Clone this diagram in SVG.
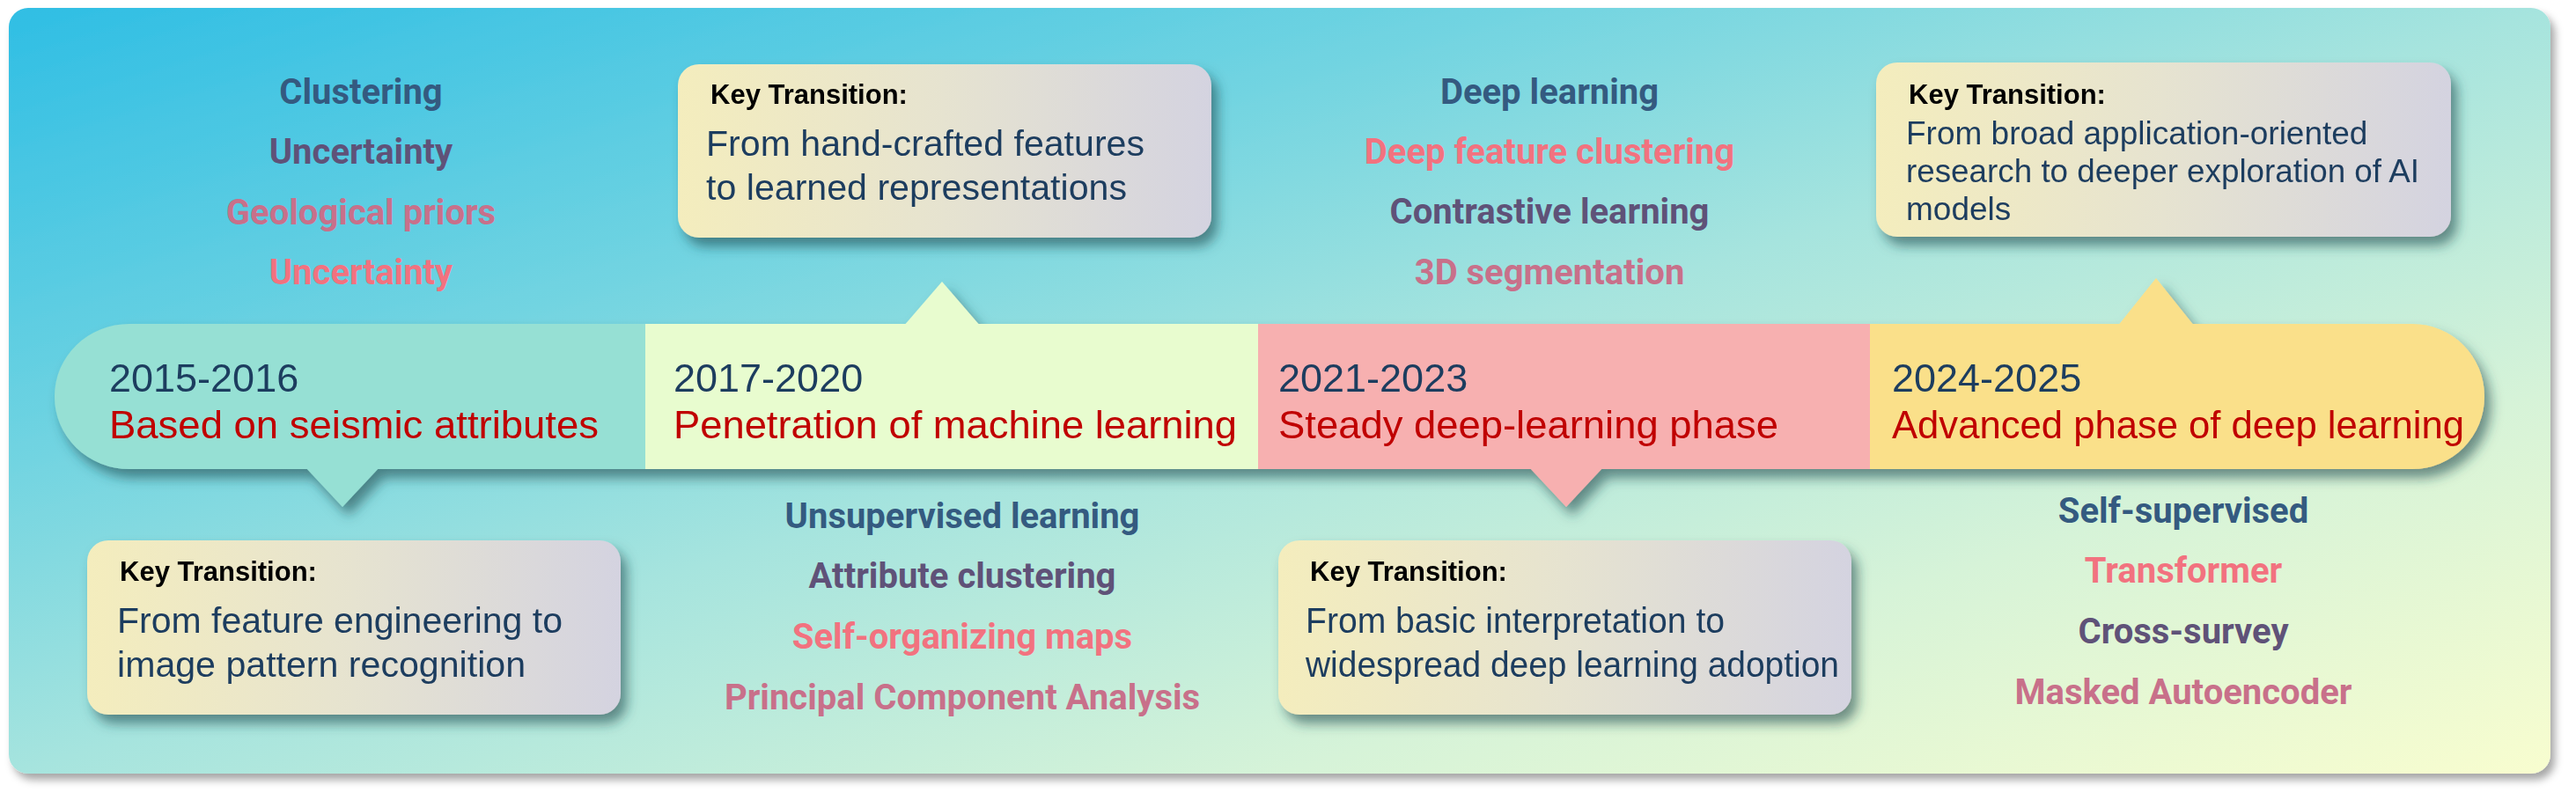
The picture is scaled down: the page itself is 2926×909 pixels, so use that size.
<svg xmlns="http://www.w3.org/2000/svg" width="2926" height="909" viewBox="0 0 2926 909">
<defs>
<linearGradient id="bgGrad" x1="0" y1="0" x2="1" y2="1">
<stop offset="0" stop-color="#2fbee4"/>
<stop offset="0.3" stop-color="#72d4e1"/>
<stop offset="0.5" stop-color="#a6e4de"/>
<stop offset="0.75" stop-color="#d6f3d8"/>
<stop offset="1" stop-color="#f8fdcf"/>
</linearGradient>
<linearGradient id="boxGrad" x1="0" y1="0" x2="1" y2="0">
<stop offset="0" stop-color="#f4edbd"/>
<stop offset="0.5" stop-color="#e6e3d0"/>
<stop offset="1" stop-color="#d4d3e0"/>
</linearGradient>
<filter id="bgShadow" x="-2%" y="-5%" width="104%" height="112%">
<feDropShadow dx="5" dy="7" stdDeviation="5" flood-color="#000" flood-opacity="0.35"/>
</filter>
<filter id="shadow" x="-10%" y="-20%" width="125%" height="150%">
<feDropShadow dx="7" dy="10" stdDeviation="7" flood-color="#1d4a4e" flood-opacity="0.6"/>
</filter>
<style>
.yr{font-family:"Liberation Sans",Arial,sans-serif;font-size:45px;fill:#1f3d5f}
.ph{font-family:"Liberation Sans",Arial,sans-serif;font-size:45px;fill:#c00000}
.kt{font-family:"Liberation Sans",Arial,sans-serif;font-size:31px;font-weight:bold;fill:#000}
.bd{font-family:"Liberation Sans",Arial,sans-serif;font-size:40px;fill:#1f3d5f}
.bds{font-family:"Liberation Sans",Arial,sans-serif;font-size:37px;fill:#1f3d5f}
.kw{font-family:Roboto,"Liberation Sans",sans-serif;font-size:40px;font-weight:bold;text-anchor:middle}
.c1{fill:#345a80}.c2{fill:#5f5278}.c3{fill:#c8708a}.c4{fill:#f2727f}
.box{fill:url(#boxGrad)}
</style>
</defs>
<rect x="0" y="0" width="2926" height="909" fill="#ffffff"/>
<rect id="panel" x="10" y="9" width="2887" height="870" rx="22" fill="url(#bgGrad)" filter="url(#bgShadow)"/>

<g id="timeline" filter="url(#shadow)">
<g id="connectors">
<path d="M346 530 L432 530 L389 576 Z" fill="#96e0d4"/>
<path d="M1026 371 L1114 371 L1070 320 Z" fill="#e8fccf"/>
<path d="M1736 530 L1822 530 L1779 576 Z" fill="#f7b0b0"/>
<path d="M2405 371 L2493 371 L2449 316 Z" fill="#fae08a"/>
</g>
<g id="period1">
<path d="M734 368 H147 A85 82 0 0 0 62 450 A85 82 0 0 0 147 533 H734 Z" fill="#96e0d4"/>
<text class="yr" x="124" y="445">2015-2016</text>
<text class="ph" x="124" y="498" textLength="556" lengthAdjust="spacingAndGlyphs">Based on seismic attributes</text>
</g>
<g id="period2">
<rect x="733" y="368" width="697" height="165" fill="#e8fccf"/>
<text class="yr" x="765" y="445">2017-2020</text>
<text class="ph" x="765" y="498" textLength="640" lengthAdjust="spacingAndGlyphs">Penetration of machine learning</text>
</g>
<g id="period3">
<rect x="1429" y="368" width="696" height="165" fill="#f7b0b0"/>
<text class="yr" x="1452" y="445">2021-2023</text>
<text class="ph" x="1452" y="498" textLength="568" lengthAdjust="spacingAndGlyphs">Steady deep-learning phase</text>
</g>
<g id="period4">
<path d="M2124 368 H2740 A82 82 0 0 1 2822 450 A82 82 0 0 1 2740 533 H2124 Z" fill="#fae08a"/>
<text class="yr" x="2149" y="445">2024-2025</text>
<text class="ph" x="2149" y="498" textLength="650" lengthAdjust="spacingAndGlyphs">Advanced phase of deep learning</text>
</g>
</g>

<g id="transition1" filter="url(#shadow)">
<rect class="box" x="99" y="614" width="606" height="198" rx="24"/>
<text class="kt" x="136" y="660">Key Transition:</text>
<text class="bd" x="133" y="719" textLength="506" lengthAdjust="spacingAndGlyphs">From feature engineering to</text>
<text class="bd" x="133" y="769" textLength="464" lengthAdjust="spacingAndGlyphs">image pattern recognition</text>
</g>
<g id="transition2" filter="url(#shadow)">
<rect class="box" x="770" y="73" width="606" height="197" rx="24"/>
<text class="kt" x="807" y="118">Key Transition:</text>
<text class="bd" x="802" y="177" textLength="498" lengthAdjust="spacingAndGlyphs">From hand-crafted features</text>
<text class="bd" x="802" y="227" textLength="478" lengthAdjust="spacingAndGlyphs">to learned representations</text>
</g>
<g id="transition3" filter="url(#shadow)">
<rect class="box" x="1452" y="614" width="651" height="198" rx="24"/>
<text class="kt" x="1488" y="660">Key Transition:</text>
<text class="bd" x="1483" y="719" textLength="476" lengthAdjust="spacingAndGlyphs">From basic interpretation to</text>
<text class="bd" x="1483" y="769" textLength="606" lengthAdjust="spacingAndGlyphs">widespread deep learning adoption</text>
</g>
<g id="transition4" filter="url(#shadow)">
<rect class="box" x="2131" y="71" width="653" height="198" rx="24"/>
<text class="kt" x="2168" y="118">Key Transition:</text>
<text class="bds" x="2165" y="164">From broad application-oriented</text>
<text class="bds" x="2165" y="207" textLength="583" lengthAdjust="spacingAndGlyphs">research to deeper exploration of AI</text>
<text class="bds" x="2165" y="250">models</text>
</g>

<g id="keywords1">
<text class="kw c1" x="410" y="118">Clustering</text>
<text class="kw c2" x="410" y="186">Uncertainty</text>
<text class="kw c3" x="410" y="255">Geological priors</text>
<text class="kw c4" x="410" y="323">Uncertainty</text>
</g>
<g id="keywords2">
<text class="kw c1" x="1093" y="600">Unsupervised learning</text>
<text class="kw c2" x="1093" y="668">Attribute clustering</text>
<text class="kw c4" x="1093" y="737">Self-organizing maps</text>
<text class="kw c3" x="1093" y="806">Principal Component Analysis</text>
</g>
<g id="keywords3">
<text class="kw c1" x="1760" y="118">Deep learning</text>
<text class="kw c4" x="1760" y="186">Deep feature clustering</text>
<text class="kw c2" x="1760" y="254">Contrastive learning</text>
<text class="kw c3" x="1760" y="323">3D segmentation</text>
</g>
<g id="keywords4">
<text class="kw c1" x="2480" y="594">Self-supervised</text>
<text class="kw c4" x="2480" y="662">Transformer</text>
<text class="kw c2" x="2480" y="731">Cross-survey</text>
<text class="kw c3" x="2480" y="800">Masked Autoencoder</text>
</g>
</svg>
